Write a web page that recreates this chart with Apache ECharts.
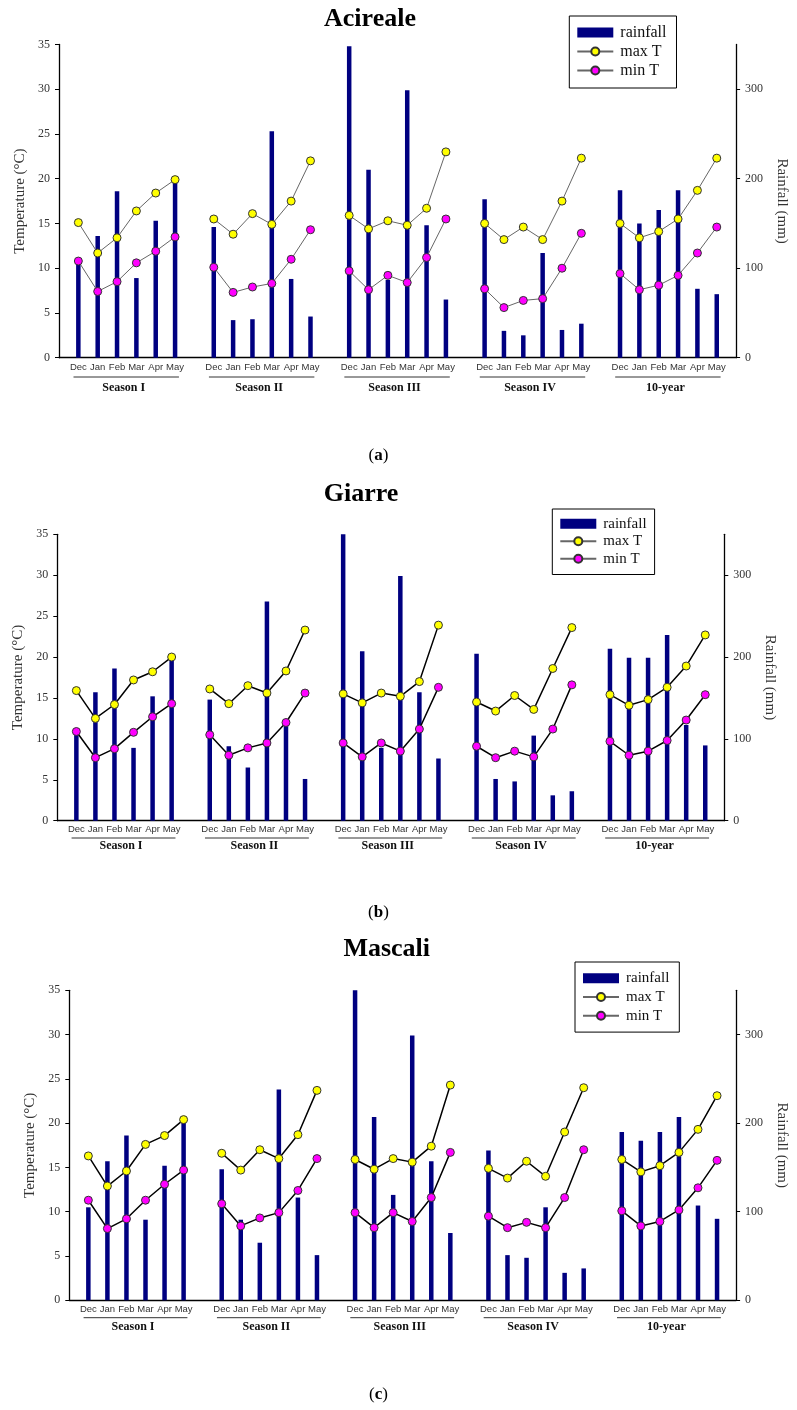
<!DOCTYPE html>
<html><head><meta charset="utf-8">
<script src="https://cdn.jsdelivr.net/npm/echarts@6/dist/echarts.min.js"></script>
<style>html,body{margin:0;padding:0;background:#fff}#c{width:797px;height:1410px}</style>
</head><body><div id="c"></div>
<script>
// ---------- data ----------
const months = ['Dec','Jan','Feb','Mar','Apr','May'];
const groups = ['Season I','Season II','Season III','Season IV','10-year'];
const panelTitles = ['Acireale','Giarre','Mascali'];
const panelTags = ['a','b','c'];
const seriesNames = ['rainfall','max T','min T'];
const tempTickStep = 5;
const rainTicks = [0,100,200,300];

const acirealeRain = [107,136,186,89,153,202, 146,42,43,253,88,46, 348,210,87,299,148,65, 177,30,25,117,31,38, 187,150,165,187,77,71];
const acirealeMaxT = [15.1,11.7,13.4,16.4,18.4,19.9, 15.5,13.8,16.1,14.9,17.5,22.0, 15.9,14.4,15.3,14.8,16.7,23.0, 15.0,13.2,14.6,13.2,17.5,22.3, 15.0,13.4,14.1,15.5,18.7,22.3];
const acirealeMinT = [10.8,7.4,8.5,10.6,11.9,13.5, 10.1,7.3,7.9,8.3,11.0,14.3, 9.7,7.6,9.2,8.4,11.2,15.5, 7.7,5.6,6.4,6.6,10.0,13.9, 9.4,7.6,8.1,9.2,11.7,14.6];

const giarreRain = [107,157,186,89,152,199, 148,91,65,268,117,51, 350,207,89,299,157,76, 204,51,48,104,31,36, 210,199,199,227,117,92];
const giarreMaxT = [15.9,12.5,14.2,17.2,18.2,20.0, 16.1,14.3,16.5,15.6,18.3,23.3, 15.5,14.4,15.6,15.2,17.0,23.9, 14.5,13.4,15.3,13.6,18.6,23.6, 15.4,14.1,14.8,16.3,18.9,22.7];
const giarreMinT = [10.9,7.7,8.8,10.8,12.7,14.3, 10.5,8.0,8.9,9.5,12.0,15.6, 9.5,7.8,9.5,8.5,11.2,16.3, 9.1,7.7,8.5,7.8,11.2,16.6, 9.7,8.0,8.5,9.8,12.3,15.4];

const mascaliRain = [105,157,186,91,152,202, 148,91,65,238,116,51, 350,207,119,299,157,76, 169,51,48,105,31,36, 190,180,190,207,107,92];
const mascaliMaxT = [16.3,12.9,14.6,17.6,18.6,20.4, 16.6,14.7,17.0,16.0,18.7,23.7, 15.9,14.8,16.0,15.6,17.4,24.3, 14.9,13.8,15.7,14.0,19.0,24.0, 15.9,14.5,15.2,16.7,19.3,23.1];
const mascaliMinT = [11.3,8.1,9.2,11.3,13.1,14.7, 10.9,8.4,9.3,9.9,12.4,16.0, 9.9,8.2,9.9,8.9,11.6,16.7, 9.5,8.2,8.8,8.2,11.6,17.0, 10.1,8.4,8.9,10.2,12.7,15.8];

const panelData = [
  {rain: acirealeRain, maxT: acirealeMaxT, minT: acirealeMinT},
  {rain: giarreRain, maxT: giarreMaxT, minT: giarreMinT},
  {rain: mascaliRain, maxT: mascaliMaxT, minT: mascaliMinT}
];

// ---------- layout ----------
const layouts = [
  {left:59, right:51.3, top:44.5, height:313.2, titleX:370, titleY:19,
   lgLeft:569.3, lgTop:16, lgRow:19, lgFont:16, lgPad:[7,10,8,7],
   tagY:456, monthMargin:4.3, ulDy:19.3, seasonDy:30.3, lineColor:'#666', lineWidth:1,
   tGap:29.5, rGap:37},
  {left:57.3, right:72.7, top:534.3, height:286.4, titleX:361, titleY:494,
   lgLeft:552.3, lgTop:509, lgRow:17.5, lgFont:15, lgPad:[6,8,7,7],
   tagY:913, monthMargin:3.6, ulDy:17.3, seasonDy:25.3, lineColor:'#000', lineWidth:1.5,
   tGap:28, rGap:33},
  {left:69.3, right:47.7, top:990.3, height:310, titleX:386.7, titleY:949,
   lgLeft:575, lgTop:962, lgRow:18.7, lgFont:15, lgPad:[7,10,7,7],
   tagY:1395, monthMargin:4.3, ulDy:17.4, seasonDy:26.4, lineColor:'#000', lineWidth:1.5,
   tGap:29.5, rGap:35}
];

// categories: blank slot before, between and after each group
const cats = [''];
groups.forEach(() => { months.forEach(m => cats.push(m)); cats.push(''); });
function expand(arr) {
  const out = [null];
  groups.forEach((g, gi) => {
    for (let k = 0; k < 6; k++) out.push(arr[gi * 6 + k]);
    out.push(null);
  });
  return out;
}

const serif = '"Liberation Serif", "Times New Roman", serif';
const sans = '"Liberation Sans", Arial, sans-serif';

const chart = echarts.init(document.getElementById('c'));
const option = {animation:false, backgroundColor:'#fff', grid:[], xAxis:[], yAxis:[], series:[], legend:[]};

layouts.forEach((L, p) => {
  const D = panelData[p];
  option.grid.push({left:L.left, right:L.right, top:L.top, height:L.height});
  option.xAxis.push({
    type:'category', gridIndex:p, data:cats, boundaryGap:false,
    axisLine:{lineStyle:{color:'#000', width:1.3}},
    axisTick:{show:false},
    axisLabel:{interval:0, fontFamily:sans, fontSize:9.5, color:'#333', margin:L.monthMargin},
    splitLine:{show:false}
  });
  option.yAxis.push({
    type:'value', gridIndex:p, position:'left', min:0, max:35, interval:tempTickStep,
    axisLine:{show:true, lineStyle:{color:'#000', width:1.3}},
    axisTick:{show:true, length:4, lineStyle:{color:'#000'}},
    axisLabel:{fontFamily:serif, fontSize:12, color:'#333', margin:9},
    splitLine:{show:false},
    name:'Temperature (°C)', nameLocation:'middle', nameGap:L.tGap,
    nameTextStyle:{fontFamily:serif, fontSize:15, color:'#333'}
  });
  option.yAxis.push({
    type:'value', gridIndex:p, position:'right', min:0, max:350,
    axisLine:{show:true, lineStyle:{color:'#000', width:1.3}},
    axisTick:{show:true, length:4, lineStyle:{color:'#000'}, customValues:rainTicks},
    axisLabel:{fontFamily:serif, fontSize:12, color:'#333', margin:9, customValues:rainTicks},
    splitLine:{show:false},
    name:'Rainfall (mm)', nameLocation:'middle', nameGap:L.rGap, nameRotate:-90,
    nameTextStyle:{fontFamily:serif, fontSize:15, color:'#333'}
  });
  option.series.push({
    type:'bar', name:seriesNames[0], xAxisIndex:p, yAxisIndex:2*p+1,
    data:expand(D.rain), barWidth:4.5, itemStyle:{color:'#000080'}
  });
  option.series.push({
    type:'line', name:seriesNames[1], xAxisIndex:p, yAxisIndex:2*p,
    data:expand(D.maxT), connectNulls:false, symbol:'circle', symbolSize:8, showSymbol:true,
    itemStyle:{color:'#ffff00', borderColor:'#333', borderWidth:1},
    lineStyle:{color:L.lineColor, width:L.lineWidth}, z:3
  });
  option.series.push({
    type:'line', name:seriesNames[2], xAxisIndex:p, yAxisIndex:2*p,
    data:expand(D.minT), connectNulls:false, symbol:'circle', symbolSize:8, showSymbol:true,
    itemStyle:{color:'#ff00ff', borderColor:'#333', borderWidth:1},
    lineStyle:{color:L.lineColor, width:L.lineWidth}, z:3
  });
  option.legend.push({
    data:[{name:seriesNames[0], icon:'rect'}, seriesNames[1], seriesNames[2]],
    orient:'vertical', left:L.lgLeft, top:L.lgTop, padding:L.lgPad,
    itemWidth:36, itemHeight:10, itemGap:0, selectedMode:false,
    borderColor:'#000', borderWidth:1, backgroundColor:'#fff',
    textStyle:{fontFamily:serif, fontSize:L.lgFont, lineHeight:L.lgRow, color:'#111', padding:[0,0,0,2]}
  });
});

chart.setOption(option);

const graphics = [];
layouts.forEach((L, p) => {
  groups.forEach((name, gi) => {
    const i0 = 1 + gi * 7, i1 = i0 + 5;
    const a = chart.convertToPixel({gridIndex:p}, [i0, 0]);
    const b = chart.convertToPixel({gridIndex:p}, [i1, 0]);
    const step = (b[0] - a[0]) / 5;
    const yU = a[1] + L.ulDy;
    graphics.push({type:'line', silent:true,
      shape:{x1:a[0] - 0.25 * step, y1:yU, x2:b[0] + 0.2 * step, y2:yU},
      style:{stroke:'#333', lineWidth:1}});
    graphics.push({type:'text', silent:true, x:(a[0] + b[0]) / 2 - 3, y:a[1] + L.seasonDy,
      style:{text:name, font:'bold 12px ' + serif, fill:'#111', align:'center', verticalAlign:'middle'}});
  });
  graphics.push({type:'text', silent:true, x:L.titleX, y:L.titleY,
    style:{text:panelTitles[p], font:'bold 26px ' + serif, fill:'#000', align:'center', verticalAlign:'middle'}});
  graphics.push({type:'text', silent:true, x:378.5, y:L.tagY,
    style:{text:'{n|(}{b|' + panelTags[p] + '}{n|)}', align:'center', verticalAlign:'middle',
      rich:{n:{font:'17px ' + serif, fill:'#000'}, b:{font:'bold 17px ' + serif, fill:'#000'}}}});
});
chart.setOption({graphic:graphics});
</script>
</body></html>
